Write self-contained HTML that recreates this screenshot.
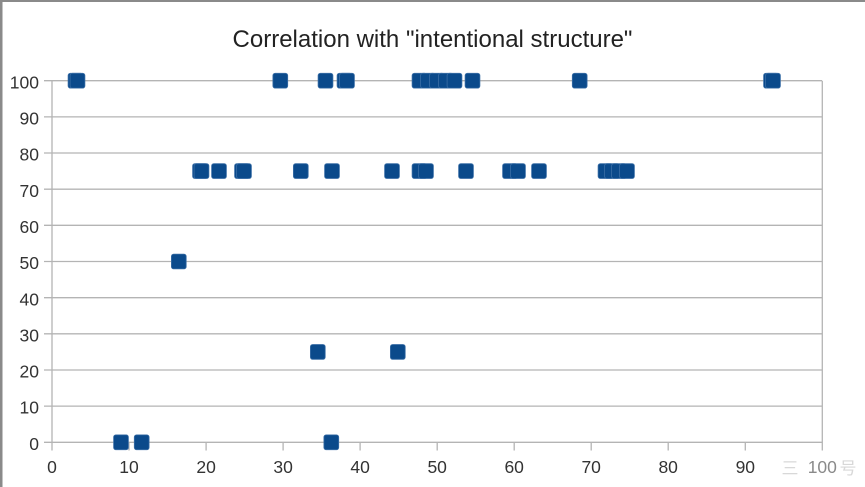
<!DOCTYPE html>
<html>
<head>
<meta charset="utf-8">
<style>
  html, body { margin: 0; padding: 0; background: #ffffff; }
  body { width: 865px; height: 487px; overflow: hidden; }
  svg { display: block; }
  text { font-family: "Liberation Sans", Arial, sans-serif; }
</style>
</head>
<body>
<svg width="865" height="487" viewBox="0 0 865 487" xmlns="http://www.w3.org/2000/svg">
  <rect x="0" y="0" width="865" height="487" fill="#ffffff"/>
  <!-- outer frame lines -->
  <rect x="0" y="0" width="865" height="2" fill="#8a8a8a"/>
  <rect x="0" y="0" width="2.5" height="487" fill="#8a8a8a"/>

  <!-- title -->
  <text x="432.5" y="47" font-size="24" fill="#222" text-anchor="middle">Correlation with "intentional structure"</text>

  <!-- gridlines + y ticks -->
  <g stroke="#b4b4b4" stroke-width="1.3" fill="none">
    <line x1="44" y1="80.7" x2="822" y2="80.7"/>
    <line x1="44" y1="116.9" x2="822" y2="116.9"/>
    <line x1="44" y1="153.0" x2="822" y2="153.0"/>
    <line x1="44" y1="189.2" x2="822" y2="189.2"/>
    <line x1="44" y1="225.3" x2="822" y2="225.3"/>
    <line x1="44" y1="261.5" x2="822" y2="261.5"/>
    <line x1="44" y1="297.7" x2="822" y2="297.7"/>
    <line x1="44" y1="333.8" x2="822" y2="333.8"/>
    <line x1="44" y1="370.0" x2="822" y2="370.0"/>
    <line x1="44" y1="406.1" x2="822" y2="406.1"/>
    <line x1="44" y1="442.3" x2="822" y2="442.3"/>
    <!-- y axis and right border -->
    <line x1="52" y1="80.7" x2="52" y2="450.5"/>
    <line x1="822.3" y1="80.7" x2="822.3" y2="450.5"/>
    <!-- x ticks -->
    <line x1="129.0" y1="442.3" x2="129.0" y2="450.5"/>
    <line x1="206.1" y1="442.3" x2="206.1" y2="450.5"/>
    <line x1="283.1" y1="442.3" x2="283.1" y2="450.5"/>
    <line x1="360.1" y1="442.3" x2="360.1" y2="450.5"/>
    <line x1="437.2" y1="442.3" x2="437.2" y2="450.5"/>
    <line x1="514.2" y1="442.3" x2="514.2" y2="450.5"/>
    <line x1="591.2" y1="442.3" x2="591.2" y2="450.5"/>
    <line x1="668.2" y1="442.3" x2="668.2" y2="450.5"/>
    <line x1="745.3" y1="442.3" x2="745.3" y2="450.5"/>
  </g>

  <!-- y labels -->
  <g font-size="17.5" fill="#333" text-anchor="end">
    <text x="39" y="88.3">100</text>
    <text x="39" y="124.5">90</text>
    <text x="39" y="160.6">80</text>
    <text x="39" y="196.8">70</text>
    <text x="39" y="232.9">60</text>
    <text x="39" y="269.1">50</text>
    <text x="39" y="305.3">40</text>
    <text x="39" y="341.4">30</text>
    <text x="39" y="377.6">20</text>
    <text x="39" y="413.7">10</text>
    <text x="39" y="449.9">0</text>
  </g>

  <!-- x labels -->
  <g font-size="17.5" fill="#333" text-anchor="middle">
    <text x="52" y="473">0</text>
    <text x="129.0" y="473">10</text>
    <text x="206.1" y="473">20</text>
    <text x="283.1" y="473">30</text>
    <text x="360.1" y="473">40</text>
    <text x="437.2" y="473">50</text>
    <text x="514.2" y="473">60</text>
    <text x="591.2" y="473">70</text>
    <text x="668.2" y="473">80</text>
    <text x="745.3" y="473">90</text>
    <text x="822.3" y="473" fill="#8a8a8a">100</text>
  </g>
  <!-- faint watermark -->
  <text x="790" y="474" font-size="17" fill="#d8d8d8" text-anchor="middle" font-family="'Noto Sans CJK SC', sans-serif">三</text>
  <text x="848" y="474" font-size="17" fill="#d8d8d8" text-anchor="middle" font-family="'Noto Sans CJK SC', sans-serif">号</text>

  <!-- markers -->
  <defs>
    <rect id="m" x="-7.4" y="-7.4" width="14.8" height="14.8" rx="2.2" ry="2.2" fill="#0b4a8b" stroke="#3a6ea6" stroke-width="0.8"/>
  </defs>
  <g>
    <!-- row 100 -->
    <use href="#m" x="75.5" y="80.7"/>
    <use href="#m" x="77.5" y="80.7"/>
    <use href="#m" x="280.3" y="80.7"/>
    <use href="#m" x="325.5" y="80.7"/>
    <use href="#m" x="344.5" y="80.7"/>
    <use href="#m" x="347" y="80.7"/>
    <use href="#m" x="419.5" y="80.7"/>
    <use href="#m" x="428" y="80.7"/>
    <use href="#m" x="437" y="80.7"/>
    <use href="#m" x="446" y="80.7"/>
    <use href="#m" x="454.5" y="80.7"/>
    <use href="#m" x="472.5" y="80.7"/>
    <use href="#m" x="579.7" y="80.7"/>
    <use href="#m" x="771" y="80.7"/>
    <use href="#m" x="773" y="80.7"/>
    <!-- row 75 -->
    <use href="#m" x="200" y="171.1"/>
    <use href="#m" x="201.5" y="171.1"/>
    <use href="#m" x="219" y="171.1"/>
    <use href="#m" x="242" y="171.1"/>
    <use href="#m" x="244" y="171.1"/>
    <use href="#m" x="300.8" y="171.1"/>
    <use href="#m" x="332" y="171.1"/>
    <use href="#m" x="392" y="171.1"/>
    <use href="#m" x="419.5" y="171.1"/>
    <use href="#m" x="426" y="171.1"/>
    <use href="#m" x="466" y="171.1"/>
    <use href="#m" x="510" y="171.1"/>
    <use href="#m" x="518" y="171.1"/>
    <use href="#m" x="539" y="171.1"/>
    <use href="#m" x="605.5" y="171.1"/>
    <use href="#m" x="612" y="171.1"/>
    <use href="#m" x="619" y="171.1"/>
    <use href="#m" x="627" y="171.1"/>
    <!-- row 50 -->
    <use href="#m" x="178.8" y="261.5"/>
    <!-- row 25 -->
    <use href="#m" x="317.8" y="351.9"/>
    <use href="#m" x="397.8" y="351.9"/>
    <!-- row 0 -->
    <use href="#m" x="121" y="442.3"/>
    <use href="#m" x="141.7" y="442.3"/>
    <use href="#m" x="331.3" y="442.3"/>
  </g>
</svg>
</body>
</html>
